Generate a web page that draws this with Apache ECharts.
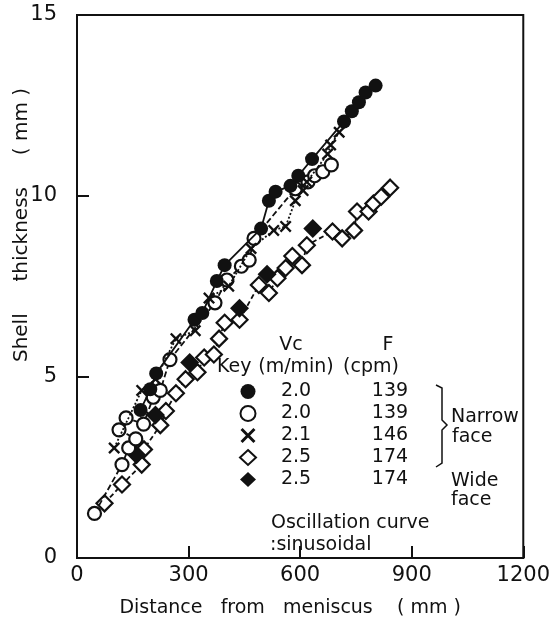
<!DOCTYPE html>
<html>
<head>
<meta charset="utf-8">
<script src="https://cdn.jsdelivr.net/npm/echarts@6/dist/echarts.min.js"></script>
<style>
  html, body { margin: 0; padding: 0; background: #fff; }
  #chart { width: 553px; height: 623px; }
</style>
</head>
<body>
<div id="chart"></div>
<script>
// distance from meniscus (mm), shell thickness (mm)
const narrow20Filled = [
  [171, 4.09], [197, 4.66], [213, 5.1], [316, 6.58], [337, 6.77],
  [376, 7.65], [397, 8.09], [495, 9.1], [516, 9.87], [534, 10.12],
  [574, 10.28], [595, 10.56], [632, 11.02], [718, 12.06], [739, 12.34],
  [758, 12.59], [776, 12.86], [803, 13.05],
];
const narrow20Open = [
  [47, 1.23], [121, 2.58], [139, 3.04], [158, 3.29], [113, 3.54],
  [132, 3.87], [179, 3.7], [205, 4.44], [224, 4.63], [250, 5.48],
  [371, 7.05], [403, 7.68], [442, 8.06], [463, 8.23], [476, 8.83],
  [587, 10.2], [621, 10.39], [639, 10.56], [661, 10.67], [684, 10.86],
];
const narrow21 = [
  [100, 3.04], [174, 4.63], [211, 4.94], [266, 6.06], [318, 6.28],
  [355, 7.18], [408, 7.51], [468, 8.55], [529, 9.05], [561, 9.16],
  [587, 9.87], [608, 10.15], [618, 10.39], [674, 11.16], [682, 11.41],
  [705, 11.76],
];
const narrow25 = [
  [74, 1.51], [121, 2.03], [174, 2.58], [180, 3.0], [224, 3.67],
  [239, 4.06], [266, 4.55], [292, 4.94], [324, 5.13], [342, 5.54],
  [368, 5.62], [382, 6.06], [397, 6.5], [437, 6.58], [489, 7.54],
  [516, 7.32], [539, 7.73], [561, 8.01], [579, 8.34], [605, 8.09],
  [618, 8.64], [687, 9.02], [713, 8.83], [745, 9.05], [753, 9.57],
  [784, 9.57], [797, 9.79], [818, 9.98], [842, 10.23],
];
const wide25 = [
  [160, 2.85], [211, 3.95], [303, 5.4], [437, 6.9], [511, 7.84], [634, 9.1],
];

const xTicks = [0, 300, 600, 900, 1200];
const yTicks = [0, 5, 10, 15];
const keyVc = ['2.0', '2.0', '2.1', '2.5', '2.5'];
const keyF = ['139', '139', '146', '174', '174'];

const FONT = 'DejaVu Sans';
const INK = '#111';
const crossPath = 'path://M0,1.4L1.4,0L5,3.6L8.6,0L10,1.4L6.4,5L10,8.6L8.6,10L5,6.4L1.4,10L0,8.6L3.6,5Z';
const names = ['s1', 's2', 's3', 's4', 's5'];

const chart = echarts.init(document.getElementById('chart'), null, { renderer: 'canvas' });

const text = (x, y, str, size, align) => ({
  type: 'text', x, y,
  style: { text: str, font: `${size}px "${FONT}"`, fill: INK, align: align || 'left', verticalAlign: 'middle' },
});

chart.setOption({
  backgroundColor: '#fff',
  animation: false,
  grid: { left: 77, right: 20, top: 15, bottom: 61, show: true, borderColor: INK, borderWidth: 2 },
  xAxis: {
    type: 'value', min: 0, max: 1200, interval: 300,
    axisLine: { show: true, lineStyle: { color: INK, width: 2 } },
    axisTick: { inside: true, length: 12, lineStyle: { color: INK, width: 2 } },
    splitLine: { show: false },
    axisLabel: { color: INK, fontFamily: FONT, fontSize: 21, margin: 7,
      formatter: v => xTicks.includes(v) ? String(v) : '' },
    name: 'Distance   from   meniscus    ( mm )', nameLocation: 'middle', nameGap: 41,
    nameTextStyle: { color: INK, fontFamily: FONT, fontSize: 19, padding: [0, 20, 0, 0] },
  },
  yAxis: {
    type: 'value', min: 0, max: 15, interval: 5,
    axisLine: { show: true, lineStyle: { color: INK, width: 2 } },
    axisTick: { inside: true, length: 12, lineStyle: { color: INK, width: 2 } },
    splitLine: { show: false },
    axisLabel: { color: INK, fontFamily: FONT, fontSize: 21, margin: 20,
      formatter: v => yTicks.includes(v) ? String(v) : '' },
  },
  legend: {
    orient: 'vertical', left: 234, top: 377, itemWidth: 16, itemHeight: 15, itemGap: 3,
    selectedMode: false,
    textStyle: { color: INK, fontFamily: FONT, fontSize: 19, lineHeight: 18,
      rich: {
        a: { width: 70, align: 'center', fontFamily: FONT, fontSize: 19, lineHeight: 18, color: INK },
        b: { width: 118, align: 'center', fontFamily: FONT, fontSize: 19, lineHeight: 18, color: INK },
      } },
    formatter: n => { const i = names.indexOf(n); return `{a|${keyVc[i]}}{b|${keyF[i]}}`; },
    data: [
      { name: 's1', icon: 'circle', itemStyle: { color: INK, borderWidth: 0 } },
      { name: 's2', icon: 'circle', itemStyle: { color: '#fff', borderColor: INK, borderWidth: 2 } },
      { name: 's3', icon: crossPath, itemStyle: { color: INK, borderWidth: 0 } },
      { name: 's4', icon: 'diamond', itemStyle: { color: '#fff', borderColor: INK, borderWidth: 2 } },
      { name: 's5', icon: 'diamond', itemStyle: { color: INK, borderWidth: 0, opacity: 1 } },
    ],
  },
  series: [
    { name: 's4', type: 'line', data: narrow25, symbol: 'diamond', symbolSize: 16,
      itemStyle: { color: '#fff', borderColor: INK, borderWidth: 2.2 },
      lineStyle: { color: INK, width: 1.8, type: [5, 3] }, z: 2 },
    { name: 's5', type: 'scatter', data: wide25, symbol: 'diamond', symbolSize: 19,
      itemStyle: { color: INK, opacity: 1 }, z: 3 },
    { name: 's2', type: 'line', data: narrow20Open, symbol: 'circle', symbolSize: 13,
      itemStyle: { color: '#fff', borderColor: INK, borderWidth: 2.2 },
      lineStyle: { color: INK, width: 1.8, type: [6, 3] }, z: 4 },
    { name: 's3', type: 'line', data: narrow21, symbol: crossPath, symbolSize: 12,
      itemStyle: { color: INK, borderWidth: 0 },
      lineStyle: { color: INK, width: 1.8, type: [2, 2] }, z: 5 },
    { name: 's1', type: 'line', data: narrow20Filled, symbol: 'circle', symbolSize: 14,
      itemStyle: { color: INK, borderWidth: 0 },
      lineStyle: { color: INK, width: 1.8 }, z: 6 },
  ],
  graphic: [
    {
      type: 'text', x: 22, y: 225, rotation: Math.PI / 2,
      style: { text: 'Shell     thickness     ( mm )', font: `20px "${FONT}"`, fill: INK, align: 'center', verticalAlign: 'middle' },
    },
    text(291, 345, 'Vc', 19, 'center'),
    text(388, 345, 'F', 19, 'center'),
    text(217, 367, 'Key', 19, 'left'),
    text(296, 367, '(m/min)', 19, 'center'),
    text(371, 367, '(cpm)', 19, 'center'),
    {
      type: 'polyline',
      shape: { points: [[436, 385], [442, 388], [442, 420], [447, 425], [442, 430], [442, 463], [436, 467]] },
      style: { stroke: INK, lineWidth: 1.5, fill: null },
    },
    text(451, 417, 'Narrow', 19, 'left'),
    text(452, 437, 'face', 19, 'left'),
    text(451, 481, 'Wide', 19, 'left'),
    text(451, 500, 'face', 19, 'left'),
    text(271, 523, 'Oscillation curve', 19, 'left'),
    text(270, 545, ':sinusoidal', 19, 'left'),
  ],
});
</script>
</body>
</html>
